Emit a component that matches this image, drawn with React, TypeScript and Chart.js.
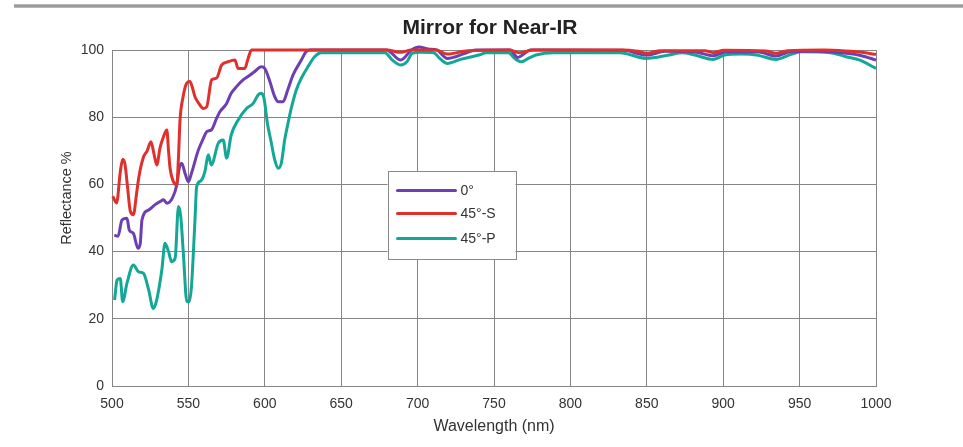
import React, { useEffect, useRef } from "react";
import { Chart, registerables } from "chart.js";

Chart.register(...registerables);

const TITLE = "Mirror for Near-IR";
const X_TITLE = "Wavelength (nm)";
const Y_TITLE = "Reflectance %";
const SERIES_LABELS = ["0°", "45°-S", "45°-P"];
const SERIES_COLORS = ["#6c3fb2", "#e0302b", "#13a896"];
const X_TICKS = [500, 550, 600, 650, 700, 750, 800, 850, 900, 950, 1000];
const Y_TICKS = [0, 20, 40, 60, 80, 100];

// 0°
const wl0 = [501.5, 504, 506.5, 509.8, 511.3, 514, 517, 518.5, 519.6, 524, 528, 531.5, 533.7, 535.9, 539.5, 542.4, 544, 545.6, 548, 550, 552, 556.5, 559.8, 562, 565, 568.5, 570.6, 575, 578, 581.5, 585.8, 589, 593.4, 597.8, 600, 603, 606.5, 608.7, 611.9, 615, 618.5, 623.9, 627, 630, 660, 679.5, 689, 696, 701, 706.5, 712.5, 719.5, 731, 738, 760.5, 765.5, 774, 834.5, 850, 862, 881.5, 893.5, 901.5, 923, 934.5, 944, 961, 980.5, 990.5, 1000];
const r0 = [44.9, 44.6, 49.4, 49.9, 46.4, 45.4, 41, 42.5, 49.4, 52.4, 53.9, 54.9, 55.4, 54.4, 55.9, 59.8, 64.8, 66.3, 63, 60.8, 63.3, 70.2, 73.7, 75.7, 76.2, 79.7, 81.6, 84.1, 87.1, 89.1, 91.1, 92.1, 93.6, 95, 94.5, 91.1, 86.1, 84.6, 84.6, 88.1, 92.6, 97, 99.5, 100, 100, 100, 97, 100, 100.9, 100.3, 100, 97.5, 99, 100, 100, 97.8, 100, 99.9, 98.5, 99.6, 99.4, 98.3, 99.4, 99.4, 98.2, 99.5, 99.6, 99, 98.3, 97];

// 45°-S
const wlS = [500.5, 503, 505.5, 507, 508.5, 510, 512, 514, 516, 517.5, 520.5, 523, 525.5, 527.5, 529.3, 531.5, 533.7, 535.9, 537, 538, 540, 542.4, 543.5, 544.5, 546.5, 548.9, 551, 552.5, 554.3, 557, 559.8, 562, 565.2, 568.4, 571.7, 576, 580.4, 582.6, 586.9, 589.1, 591.3, 620, 660, 680, 689, 696, 712, 719.5, 733, 760, 766.5, 776, 834, 844, 850, 859, 888, 893.5, 900.5, 928, 934.5, 942, 966, 980.5, 990.5, 1000];
const rS = [56.5, 54.5, 64, 67.5, 66, 60, 52, 51, 57, 62, 68, 70, 72.7, 69, 65.8, 71, 74.2, 76.2, 70, 64.8, 61, 59.8, 68, 79, 86, 90.1, 90.6, 89, 86.1, 84, 82.6, 83.1, 91.1, 91.6, 95.5, 96.5, 97, 94.5, 94.5, 97.5, 100, 100, 100, 100, 99.3, 100, 100, 98.8, 99.8, 100, 99.2, 100, 100, 99.6, 99, 99.8, 99.8, 99.2, 99.9, 99.7, 99, 99.8, 100, 99.7, 99.3, 98.7];

// 45°-P
const wlP = [501.7, 503.3, 505.4, 507, 509.8, 514, 517.4, 520.6, 524, 527, 529, 532.6, 534.7, 537, 539, 541.3, 543.5, 545, 546.7, 549, 550.4, 552, 554.3, 555.4, 558, 560.8, 563, 565, 569.5, 572.8, 575, 578, 582.6, 588, 592.4, 595.6, 597.8, 599.5, 601.7, 603.9, 606.5, 608.7, 610.8, 613, 615.2, 617.3, 620.6, 623.9, 628.2, 632.6, 637, 660, 678.5, 683.5, 689, 693, 696.5, 702, 710.5, 714.5, 719.5, 728, 740, 745, 759.5, 763.5, 768, 772.5, 777.5, 789, 810.5, 832.5, 849.5, 864.5, 873, 881.5, 893.5, 901, 912, 923, 934.5, 945, 951.3, 970, 980.5, 989.5, 998, 1000];
const rP = [25.6, 31.5, 32, 25.1, 30.6, 36, 34, 33.5, 28.6, 23.1, 25.1, 34.5, 42.5, 40, 37, 38, 53.4, 50.4, 39.5, 25.1, 25.1, 29.6, 49.4, 59.3, 61, 63.8, 68.8, 65.8, 72.2, 73.2, 67.8, 74.7, 79.2, 82.6, 84.1, 86.6, 87.1, 85.6, 78.2, 73.2, 67.3, 64.8, 66.3, 73.2, 78.2, 82.6, 88.1, 91.6, 95, 98, 99.2, 99.2, 99.2, 97, 95.5, 96.5, 99, 99.3, 99.2, 97.5, 96, 97.2, 98.5, 99.2, 99.2, 97.5, 96.5, 97.5, 98.5, 99.2, 99.2, 99.2, 97.5, 98.5, 99.2, 98.5, 97.2, 98.5, 98.8, 98.4, 97.2, 98.8, 99.5, 99.2, 98, 97, 95, 94.5];

const FONT = "'Liberation Sans', Arial, Helvetica, sans-serif";

const toPoints = (xs: number[], ys: number[]) => xs.map((x, i) => ({ x, y: ys[i] }));

const boxLegend = {
  id: "boxLegend",
  afterDatasetsDraw(chart: any) {
    const { ctx, chartArea } = chart;
    const x0 = chartArea.left + 275.5;
    const y0 = chartArea.top + 121;
    const w = 128;
    const h = 88;
    ctx.save();
    ctx.fillStyle = "#ffffff";
    ctx.fillRect(x0, y0, w, h);
    ctx.strokeStyle = "#8a8a8a";
    ctx.lineWidth = 1;
    ctx.strokeRect(Math.round(x0) + 0.5, Math.round(y0) + 0.5, w, h);
    const rows = [19.5, 42.5, 67.5];
    const order = [0, 1, 2];
    order.forEach((i) => {
      const ds = chart.data.datasets[i];
      const y = y0 + rows[i];
      ctx.strokeStyle = ds.borderColor;
      ctx.lineWidth = 3;
      ctx.lineCap = "round";
      ctx.beginPath();
      ctx.moveTo(x0 + 10, y);
      ctx.lineTo(x0 + 68, y);
      ctx.stroke();
      ctx.fillStyle = "#333333";
      ctx.font = `14px ${FONT}`;
      ctx.textBaseline = "middle";
      ctx.textAlign = "left";
      ctx.fillText(ds.label, x0 + 73, y + 1);
    });
    ctx.restore();
  },
};

const textPlugin = {
  id: "texts",
  afterDraw(chart: any) {
    const { ctx, chartArea } = chart;
    ctx.save();
    ctx.fillStyle = "#222222";
    ctx.font = `bold 21px ${FONT}`;
    ctx.textAlign = "center";
    ctx.textBaseline = "middle";
    ctx.fillText(TITLE, (chartArea.left + chartArea.right) / 2 - 4, 28);
    ctx.restore();

    ctx.save();
    ctx.translate(67, 198);
    ctx.rotate(-Math.PI / 2);
    ctx.fillStyle = "#333333";
    ctx.font = `14.5px ${FONT}`;
    ctx.textAlign = "center";
    ctx.textBaseline = "middle";
    ctx.fillText(Y_TITLE, 0, 0);
    ctx.restore();
  },
};

export default function App() {
  const ref = useRef<HTMLCanvasElement | null>(null);

  useEffect(() => {
    if (!ref.current) return;
    const datasets = [
      { label: SERIES_LABELS[0], data: toPoints(wl0, r0) },
      { label: SERIES_LABELS[1], data: toPoints(wlS, rS) },
      { label: SERIES_LABELS[2], data: toPoints(wlP, rP) },
    ].map((d, i) => ({
      ...d,
      borderColor: SERIES_COLORS[i],
      backgroundColor: SERIES_COLORS[i],
      borderWidth: 3,
      pointRadius: 0,
      fill: false,
      cubicInterpolationMode: "monotone" as const,
      clip: 6,
      order: [2, 1, 3][i],
    }));

    const chart = new Chart(ref.current, {
      type: "line",
      data: { datasets },
      plugins: [boxLegend, textPlugin],
      options: {
        responsive: false,
        animation: false,
        events: [],
        layout: { padding: { top: 50, right: 87, left: 0, bottom: 0 } },
        plugins: { legend: { display: false }, tooltip: { enabled: false }, title: { display: false } },
        scales: {
          x: {
            type: "linear",
            min: X_TICKS[0],
            max: X_TICKS[X_TICKS.length - 1],
            afterBuildTicks: (s: any) => {
              s.ticks = X_TICKS.map((v) => ({ value: v }));
            },
            afterFit: (s: any) => {
              s.height = 61;
            },
            grid: { color: "#858585", lineWidth: 1, drawTicks: false },
            border: { color: "#858585", width: 1 },
            ticks: {
              color: "#333333",
              padding: 10,
              maxRotation: 0,
              font: { family: FONT, size: 14 },
              callback: (v: any) => String(v),
            },
            title: { display: true, text: X_TITLE, color: "#333333", font: { family: FONT, size: 16 }, padding: { top: 0, bottom: 11 } },
          },
          y: {
            type: "linear",
            min: Y_TICKS[0],
            max: Y_TICKS[Y_TICKS.length - 1],
            afterBuildTicks: (s: any) => {
              s.ticks = Y_TICKS.map((v) => ({ value: v }));
            },
            afterFit: (s: any) => {
              s.width = 112;
            },
            grid: { color: "#858585", lineWidth: 1, drawTicks: false },
            border: { color: "#858585", width: 1 },
            ticks: { color: "#333333", padding: 8, font: { family: FONT, size: 14 }, callback: (v: any) => String(v) },
            title: { display: false },
          },
        },
      },
    });
    return () => chart.destroy();
  }, []);

  return (
    <div style={{ position: "fixed", left: 0, top: 0, width: 963, height: 447, background: "#ffffff" }}>
      <div style={{ position: "absolute", left: 14, top: 4, width: 949, height: 4, background: "linear-gradient(#c4c4c4, #8e8e8e 50%, #c4c4c4)" }} />
      <canvas ref={ref} width={963} height={447} style={{ position: "absolute", left: 0, top: 0, display: "block" }} />
    </div>
  );
}
